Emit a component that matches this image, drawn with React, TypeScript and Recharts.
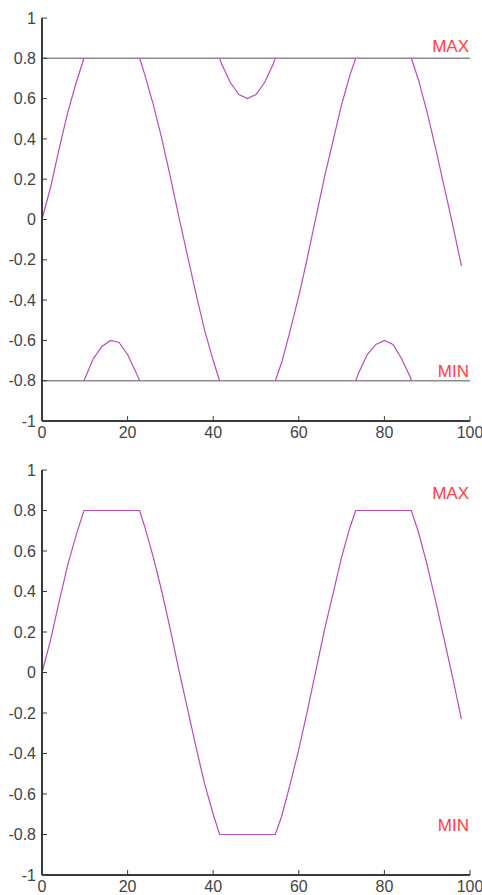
import React from 'react';
import { LineChart, Line, XAxis, YAxis, ReferenceLine, Label } from 'recharts';

// folded (wrapped) signal, null = break at the wrap point
const foldX = [
  0, 2, 4, 6, 8, 9.8, 9.8, 9.8, 10, 12, 14, 16, 18, 20, 22, 22.8, 22.8, 22.8,
  24, 26, 28, 30, 32, 34, 36, 38, 40, 41.5, 41.5, 41.5, 42, 44, 46, 48, 50, 52, 54, 54.5, 54.5, 54.5,
  56, 58, 60, 62, 64, 66, 68, 70, 72, 73.3, 73.3, 73.3, 74, 76, 78, 80, 82, 84, 86, 86.3, 86.3, 86.3,
  88, 90, 92, 94, 96, 98,
];
const foldY = [
  0, 0.16, 0.35, 0.53, 0.68, 0.8, null, -0.8, -0.79, -0.69, -0.63, -0.6, -0.61, -0.67, -0.76, -0.8, null, 0.8,
  0.72, 0.57, 0.4, 0.21, 0.01, -0.18, -0.37, -0.55, -0.7, -0.8, null, 0.8, 0.77, 0.68, 0.62, 0.6, 0.62, 0.68, 0.77, 0.8, null, -0.8,
  -0.71, -0.55, -0.38, -0.19, 0.01, 0.21, 0.39, 0.57, 0.72, 0.8, null, -0.8, -0.76, -0.67, -0.62, -0.6, -0.62, -0.69, -0.78, -0.8, null, 0.8,
  0.69, 0.53, 0.35, 0.16, -0.03, -0.23,
];

// clipped signal
const clipX = [
  0, 2, 4, 6, 8, 9.8, 22.8, 24, 26, 28, 30, 32, 34, 36, 38, 40, 41.5, 54.5,
  56, 58, 60, 62, 64, 66, 68, 70, 72, 73.3, 86.3, 88, 90, 92, 94, 96, 98,
];
const clipY = [
  0, 0.16, 0.35, 0.53, 0.68, 0.8, 0.8, 0.72, 0.57, 0.4, 0.21, 0.01, -0.18, -0.37, -0.55, -0.7, -0.8, -0.8,
  -0.71, -0.55, -0.38, -0.19, 0.01, 0.21, 0.39, 0.57, 0.72, 0.8, 0.8, 0.69, 0.53, 0.35, 0.16, -0.03, -0.23,
];

const xTicks = [0, 20, 40, 60, 80, 100];
const yTicks = [-1, -0.8, -0.6, -0.4, -0.2, 0, 0.2, 0.4, 0.6, 0.8, 1];
const limits = [0.8, -0.8];

const foldData = foldX.map((x, i) => ({ x, y: foldY[i] }));
const clipData = clipX.map((x, i) => ({ x, y: clipY[i] }));

const FONT = '"Liberation Sans", Arial, sans-serif';
const tickStyle = { fontSize: 16, fill: '#444444', fontFamily: FONT };

const tagLabel = (text: string, lift: number) => (props: any) => {
  const vb = props.viewBox || {};
  return (
    <text
      x={vb.x + vb.width - 1}
      y={vb.y - lift}
      textAnchor="end"
      fill="#ff4040"
      fontSize={17}
      fontFamily={FONT}
    >
      {text}
    </text>
  );
};

const Plot = ({ data, showLines, lifts, height, xh }: any) => (
  <LineChart width={482} height={height} data={data} margin={{ top: 18, right: 12, bottom: 0, left: 0 }}>
    <XAxis
      dataKey="x"
      type="number"
      domain={[0, 100]}
      ticks={xTicks}
      height={xh}
      tickSize={-5}
      tickMargin={11}
      stroke="#3a3a3a"
      axisLine={{ strokeWidth: 2 }}
      tick={tickStyle}
    />
    <YAxis
      type="number"
      domain={[-1, 1]}
      ticks={yTicks}
      width={42}
      tickSize={-5}
      tickMargin={11}
      stroke="#3a3a3a"
      axisLine={{ strokeWidth: 2 }}
      tick={tickStyle}
      tickFormatter={(v: number) => String(v)}
    />
    <ReferenceLine
      y={limits[0]}
      stroke={showLines ? '#8c8c8c' : 'transparent'}
      strokeWidth={1.5}
    >
      <Label content={tagLabel('MAX', lifts[0])} />
    </ReferenceLine>
    <ReferenceLine
      y={limits[1]}
      stroke={showLines ? '#8c8c8c' : 'transparent'}
      strokeWidth={1.5}
    >
      <Label content={tagLabel('MIN', lifts[1])} />
    </ReferenceLine>
    <Line
      type="linear"
      dataKey="y"
      stroke="#b84cb8"
      strokeWidth={1.2}
      dot={false}
      activeDot={false}
      isAnimationActive={false}
    />
  </LineChart>
);

export default function App() {
  return (
    <div style={{ position: 'absolute', left: 0, top: 0, width: 482, height: 895, overflow: 'hidden', background: '#fff' }}>
      <div style={{ position: 'absolute', left: 0, top: 0 }}>
        <Plot data={foldData} showLines lifts={[6, 4]} height={451} xh={30} />
      </div>
      <div style={{ position: 'absolute', left: 0, top: 452 }}>
        <Plot data={clipData} showLines={false} lifts={[12, 4]} height={443} xh={20} />
      </div>
    </div>
  );
}
